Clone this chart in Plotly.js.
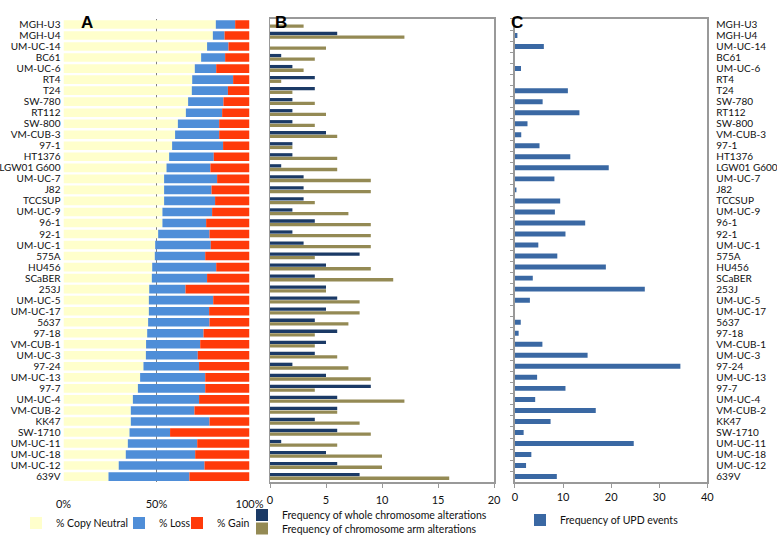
<!DOCTYPE html>
<html><head><meta charset="utf-8">
<script src="https://cdn.plot.ly/plotly-3.0.1.min.js"></script>
<style>html,body{margin:0;padding:0;background:#fff}#chart{width:777px;height:543px}</style>
</head><body><div id="chart"></div>
<script>
const cellLines = ["MGH-U3","MGH-U4","UM-UC-14","BC61","UM-UC-6","RT4","T24","SW-780","RT112","SW-800","VM-CUB-3","97-1","HT1376","LGW01 G600","UM-UC-7","J82","TCCSUP","UM-UC-9","96-1","92-1","UM-UC-1","575A","HU456","SCaBER","253J","UM-UC-5","UM-UC-17","5637","97-18","VM-CUB-1","UM-UC-3","97-24","UM-UC-13","97-7","UM-UC-4","VM-CUB-2","KK47","SW-1710","UM-UC-11","UM-UC-18","UM-UC-12","639V"];
const copyNeutral = [81.9,80.3,77.2,74.0,70.6,69.2,69.0,67.0,65.8,61.5,60.0,58.4,56.8,55.4,54.1,54.1,54.1,53.2,53.2,50.9,49.3,49.1,47.7,47.5,46.1,45.9,45.9,45.5,45.0,44.4,44.3,43.0,41.2,40.0,37.3,36.2,36.2,35.5,34.6,33.5,29.7,24.2];
const loss = [10.4,6.3,11.5,12.9,11.5,22.0,19.4,19.0,19.5,22.2,23.7,27.4,24.0,23.6,28.5,25.5,27.4,26.7,23.5,27.6,29.9,27.1,34.4,29.7,19.5,34.6,32.4,33.0,30.3,29.1,27.9,29.9,35.0,36.2,35.6,34.2,42.3,21.8,37.3,37.3,46.1,43.5];
const gain = [7.7,13.4,11.3,13.1,17.9,8.8,11.6,14.0,14.7,16.3,16.3,14.2,19.2,21.0,17.4,20.4,18.5,20.1,23.3,21.5,20.8,23.8,17.9,22.8,34.4,19.5,21.7,21.5,24.7,26.5,27.8,27.1,23.8,23.8,27.1,29.6,21.5,42.7,28.1,29.2,24.2,32.3];
const wholeChrom = [0,6,0,1,2,4,4,2,2,2,5,2,2,1,3,3,3,2,4,2,3,8,5,4,5,6,5,4,6,5,4,2,5,9,6,6,4,6,1,5,6,8];
const armChrom = [3,12,5,4,3,1,2,4,5,4,6,2,6,6,9,9,4,7,9,9,9,4,9,11,5,8,8,7,4,4,6,7,9,4,12,6,8,9,6,10,10,16];
const updEvents = [0,0.5,6.0,0,1.25,0,11.0,5.75,13.4,2.6,1.3,5.1,11.5,19.5,8.2,0.3,9.4,8.3,14.6,10.5,4.85,8.8,18.9,3.7,27.0,3.1,0,1.2,0.76,5.7,15.1,34.4,4.6,10.5,4.2,16.8,7.4,1.8,24.7,3.4,2.3,8.7];

const lossBase = copyNeutral.slice();
const gainBase = copyNeutral.map((v,i)=>v+loss[i]);

const FONT = "Lato, 'Open Sans', sans-serif";
const txt = {family: FONT, size: 11, color: '#111'};
const catFont = {family: FONT, size: 10, color: '#111'};
const legFont = {family: FONT, size: 10.5, color: '#111'};

const traces = [
  {type:'bar', orientation:'h', name:'% Copy Neutral', y:cellLines, x:copyNeutral, base:0,
   xaxis:'x', yaxis:'y', width:0.78, marker:{color:'#FFFFCC'}, legend:'legend'},
  {type:'bar', orientation:'h', name:'% Loss', y:cellLines, x:loss, base:lossBase,
   xaxis:'x', yaxis:'y', width:0.78, marker:{color:'#4F8ED8'}, legend:'legend4'},
  {type:'bar', orientation:'h', name:'% Gain', y:cellLines, x:gain, base:gainBase,
   xaxis:'x', yaxis:'y', width:0.78, marker:{color:'#FF3A0A'}, legend:'legend5'},
  {type:'bar', orientation:'h', name:'Frequency of whole chromosome alterations', y:cellLines, x:wholeChrom,
   xaxis:'x2', yaxis:'y2', width:0.3, offset:-0.33, marker:{color:'#1B3A66'}, legend:'legend2'},
  {type:'bar', orientation:'h', name:'Frequency of chromosome arm alterations', y:cellLines, x:armChrom,
   xaxis:'x2', yaxis:'y2', width:0.3, offset:0.0, marker:{color:'#948A54'}, legend:'legend6'},
  {type:'bar', orientation:'h', name:'Frequency of UPD events', y:cellLines, x:updEvents,
   xaxis:'x3', yaxis:'y3', width:0.45, marker:{color:'#3A68A3'}, legend:'legend3'}
];

const yDom = [0.1105, 0.965];
const boxLine = {showline:true, linecolor:'#999', linewidth:1.5, mirror:true};
const catAxis = {type:'category', autorange:'reversed', tickmode:'array', tickvals:cellLines, ticktext:cellLines};
function leg(xpx, ypx, anchor){
  return {orientation:'v', x:xpx/777, xanchor:'left', y:1-ypx/543, yanchor:anchor||'middle', font:legFont,
          itemwidth:30, bgcolor:'rgba(0,0,0,0)', tracegroupgap:0};
}
const layout = {
  width:777, height:543, margin:{l:0,r:0,t:0,b:0},
  paper_bgcolor:'#fff', plot_bgcolor:'rgba(0,0,0,0)',
  barmode:'overlay', font:txt,
  xaxis:{domain:[0.0817,0.3211], range:[0,100], tickvals:[0,50,100], ticktext:['0%','50%','100%'],
         showgrid:true, gridcolor:'#808080', gridwidth:1, zeroline:false, showline:false,
         ticks:'outside', ticklen:12, tickcolor:'rgba(0,0,0,0)', tickfont:txt, fixedrange:true},
  yaxis:Object.assign({domain:yDom, showgrid:false, ticks:'', showline:false,
         tickfont:catFont, ticklabelstandoff:2}, catAxis),
  xaxis2:Object.assign({domain:[0.3475,0.6358], range:[0,20], dtick:5, anchor:'y2', showgrid:false, zeroline:false,
         ticks:'outside', ticklen:4, tickcolor:'#999', tickfont:txt, ticklabelstandoff:3}, boxLine),
  yaxis2:Object.assign({domain:yDom, anchor:'x2', showticklabels:false,
         ticks:'', showgrid:false}, boxLine, catAxis),
  xaxis3:Object.assign({domain:[0.6628,0.9103], range:[0,40], dtick:10, anchor:'y3', showgrid:false, zeroline:false,
         ticks:'outside', ticklen:4, tickcolor:'#999', tickfont:txt, ticklabelstandoff:0}, boxLine),
  yaxis3:Object.assign({domain:yDom, anchor:'x3', showticklabels:false,
         ticks:'outside', ticklen:3, tickcolor:'#999', tickson:'boundaries', showgrid:false}, boxLine, catAxis),
  yaxis4:Object.assign({overlaying:'y3', side:'right', anchor:'x3', matches:'y3',
         showticklabels:true, ticks:'', showgrid:false, showline:false, tickfont:catFont, ticklabelstandoff:8}, catAxis),
  legend:leg(16, 523),
  legend4:leg(119, 523),
  legend5:leg(177, 523),
  legend2:leg(242, 515),
  legend6:leg(242, 529),
  legend3:leg(520, 520),
  annotations:[
    {text:'<b>A</b>', x:79/777, y:1-11/543, xref:'paper', yref:'paper', showarrow:false,
     font:{family:'Liberation Sans, Arial, sans-serif', size:17, color:'#000'}},
    {text:'<b>B</b>', x:281/777, y:1-11/543, xref:'paper', yref:'paper', showarrow:false,
     font:{family:'Liberation Sans, Arial, sans-serif', size:17, color:'#000'}},
    {text:'<b>C</b>', x:525/777, y:1-11/543, xref:'paper', yref:'paper', showarrow:false,
     font:{family:'Liberation Sans, Arial, sans-serif', size:17, color:'#000'}}
  ]
};

// invisible helper trace so the right-hand category labels of panel C are drawn
traces.push({type:'bar', orientation:'h', y:cellLines, x:cellLines.map(()=>0), xaxis:'x3', yaxis:'y4',
  showlegend:false, hoverinfo:'skip', marker:{color:'rgba(0,0,0,0)'}});

Plotly.newPlot('chart', traces, layout, {staticPlot:true});
</script></body></html>
